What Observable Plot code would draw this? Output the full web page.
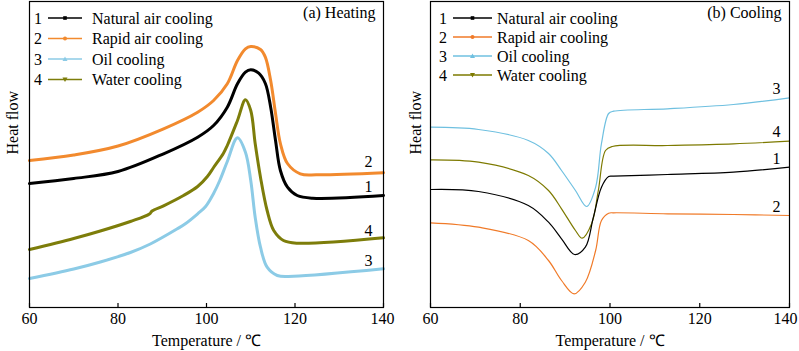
<!DOCTYPE html>
<html><head><meta charset="utf-8">
<script src="https://cdn.jsdelivr.net/npm/d3@7"></script>
<script src="https://cdn.jsdelivr.net/npm/@observablehq/plot@0.6"></script>
<style>
body{margin:0;background:#fff;}
#wrap{position:relative;width:799px;height:351px;font-family:"Liberation Serif","Times New Roman",serif;}
.panel{position:absolute;top:0;}
.panel text{font-family:"Liberation Serif","Times New Roman",serif;}
</style></head><body><div id="wrap"></div>
<script>
// Series
const seriesIds = ["1","2","3","4"];
const seriesNames = ["Natural air cooling","Rapid air cooling","Oil cooling","Water cooling"];
const heatColors = ["#000000","#f28a2e","#8ccbe6","#7d7d0a"];
const coolColors = ["#000000","#f07a28","#6fc0e0","#7d7a00"];
const xTicks = [60, 80, 100, 120, 140];

// (a) Heating — temperature (°C) and heat flow (arbitrary units)
const heatT1 = [60,70,80,90.3,98,101.6,104.7,107,108.8,110,111.8,113.3,114.5,115.6,116.7,118.3,120.5,124,140];
const heatV1 = [124,129,136,153.7,170.3,182,200.3,223.7,235.3,237.7,234.3,224,200.3,167,137,120.3,112,109.3,112];
const heatT2 = [60,70,80,90.3,98,101.6,104.7,107,108.8,110,112.2,113.3,114.5,115.6,116.7,118.3,121.2,125,140];
const heatV2 = [147,152.5,161.5,178.7,195.3,207,223.7,247,258.7,261,258,250.3,227,194,164,144,133.7,132.7,134.7];
const heatT3 = [60,70,76,82.8,87.3,93.4,95.3,98,99.8,101.6,103,104.7,107,108.8,110,111,112.2,113.7,116,119.7,140];
const heatV3 = [29,38.5,45.5,55,63.5,78.7,84,93.7,101,114,127,146,169.7,155.3,127,90.3,60.3,40.3,32,31.3,38.7];
const heatT4 = [60,70,76,82.8,87.1,87.7,90.3,94.8,98,100.2,101.6,103.8,104.7,107,108.8,110,111,112.2,113.7,115.2,117.4,120.5,140];
const heatV4 = [58,69,76.5,86,93.5,96.5,101.7,112,121,131,140,154,162,187,207.7,197,164,130.3,97,77,67,64.3,69.7];

// (b) Cooling
const coolT1 = [60,70.7,81.8,86.3,89.2,92.1,94.5,96.3,98.1,99.7,100.8,112.8,127.5,140];
const coolV1 = [118,116,102,85.3,68.7,53,60.3,90.3,120.3,131,131.3,133,135.3,140.3];
const coolT2 = [60,70.7,81.8,86.3,89.2,92,94.5,96.8,98.1,99.7,100.8,112.8,127.5,140];
const coolV2 = [84.7,80.3,67,47,27,13.7,25.3,57,87,94.3,94.7,93.7,93,92];
const coolT3 = [60,70.7,81.8,86.3,89.2,92.3,94.8,96.8,98.1,99.7,100.8,112.8,127.5,140];
const coolV3 = [180.3,178,167,154,137,117,101,120.3,164,194,196.3,198.7,203,209.7];
const coolT4 = [60,70.7,81.8,86.3,89.2,92.3,93.8,95.9,97.4,99,100.5,112.8,127.5,140];
const coolV4 = [147.7,145.3,132,117,98.7,77,69.3,83.7,117,157,161,162,163.7,166.3];

// End labels
const heatLabelT = [136.6,136.6,136.6,136.6];
const heatLabelV = [120.3,145.3,47,77];
const coolLabelT = [137.1,137.1,137.1,137.1];
const coolLabelV = [148.7,101,218.7,175.3];

const heatT = [heatT1,heatT2,heatT3,heatT4], heatV = [heatV1,heatV2,heatV3,heatV4];
const coolT = [coolT1,coolT2,coolT3,coolT4], coolV = [coolV1,coolV2,coolV3,coolV4];

function table(Ts, Vs) {
  return Ts.map((ts, i) => ts.map((t, j) => ({T: t, v: Vs[i][j], id: seriesIds[i]})));
}

const font = '"Liberation Serif","Times New Roman",serif';
const FS = 16;

function panel({Ts, Vs, colors, lw, labT, labV, title, width, mL, mR, ylabDx, order, lastDx}) {
  const data = table(Ts, Vs);
  const labels = seriesIds.map((id, i) => ({T: labT[i], v: labV[i], id}));
  return Plot.plot({
    width, height: 351,
    marginLeft: mL, marginRight: mR, marginTop: 1, marginBottom: 44,
    x: {domain: [60, 140]},
    y: {domain: [0, 306], axis: null},
    style: {fontFamily: font, fontSize: FS + "px", color: "black", background: "transparent", overflow: "visible"},
    marks: [
      ...order.map(i => Plot.line(data[i], {x: "T", y: "v", stroke: colors[i], strokeWidth: lw, curve: "catmull-rom"})),
      Plot.frame({stroke: "black", strokeWidth: 1.2}),
      Plot.ruleX(xTicks, {y1: 0, y2: 4, stroke: "black", strokeWidth: 1.2}),
      Plot.axisX(xTicks.slice(0, -1), {tickSize: 0, tickPadding: 5, fontSize: FS, fontFamily: font, label: "Temperature / ℃", labelAnchor: "center", labelOffset: 38, labelArrow: "none"}),
      Plot.axisX(xTicks.slice(-1), {tickSize: 0, tickPadding: 5, fontSize: FS, fontFamily: font, dx: lastDx, label: null}),
      Plot.text(labels, {x: "T", y: "v", text: "id", fontSize: FS, fill: "black"}),
      Plot.text([title], {frameAnchor: "top-right", dx: -8, dy: 5, textAnchor: "end", lineAnchor: "top", fontSize: FS, fill: "black"}),
      Plot.text(["Heat flow"], {frameAnchor: "left", dx: ylabDx, rotate: -90, fontSize: FS, fill: "black"})
    ]
  });
}

const wrap = document.getElementById("wrap");
const left = panel({Ts: heatT, Vs: heatV, colors: heatColors, lw: 3, labT: heatLabelT, labV: heatLabelV,
  title: "(a) Heating", width: 400, mL: 29, mR: 17, ylabDx: -17, order: [2, 3, 0, 1], lastDx: -1});
left.classList.add("panel"); left.style.left = "0px";
wrap.appendChild(left);
const right = panel({Ts: coolT, Vs: coolV, colors: coolColors, lw: 1.2, labT: coolLabelT, labV: coolLabelV,
  title: "(b) Cooling", width: 399, mL: 30, mR: 10, ylabDx: -15, order: [2, 3, 0, 1], lastDx: -4});
right.classList.add("panel"); right.style.left = "400px";
wrap.appendChild(right);

// Legends (overlay)
const lg = d3.select(wrap).append("svg").attr("width", 799).attr("height", 351)
  .style("position", "absolute").style("left", 0).style("top", 0).style("pointer-events", "none")
  .style("font-family", font).style("font-size", FS + "px");

function legend(x0, rows, colors) {
  const g = lg.append("g");
  seriesIds.forEach((id, i) => {
    const y = rows[i];
    g.append("text").attr("x", x0.num).attr("y", y).attr("dy", "0.35em").attr("text-anchor", "middle").text(id);
    g.append("line").attr("x1", x0.l1).attr("x2", x0.l2).attr("y1", y).attr("y2", y).attr("stroke", colors[i]).attr("stroke-width", 1.5);
    const cx = (x0.l1 + x0.l2) / 2;
    if (i === 0) g.append("rect").attr("x", cx - 1.8).attr("y", y - 1.8).attr("width", 3.6).attr("height", 3.6).attr("fill", colors[i]);
    if (i === 1) g.append("circle").attr("cx", cx).attr("cy", y).attr("r", 2).attr("fill", colors[i]);
    if (i === 2) g.append("path").attr("d", `M${cx},${y-2.5}L${cx+2.5},${y+2}L${cx-2.5},${y+2}Z`).attr("fill", colors[i]);
    if (i === 3) g.append("path").attr("d", `M${cx},${y+2.5}L${cx+2.5},${y-2}L${cx-2.5},${y-2}Z`).attr("fill", colors[i]);
    g.append("text").attr("x", x0.t).attr("y", y).attr("dy", "0.35em").text(seriesNames[i]);
  });
}
legend({num: 38, l1: 48, l2: 82, t: 92}, [18, 38.5, 59, 79.5], heatColors);
legend({num: 443, l1: 453, l2: 492, t: 497}, [18, 37, 56, 75], coolColors);
</script></body></html>
